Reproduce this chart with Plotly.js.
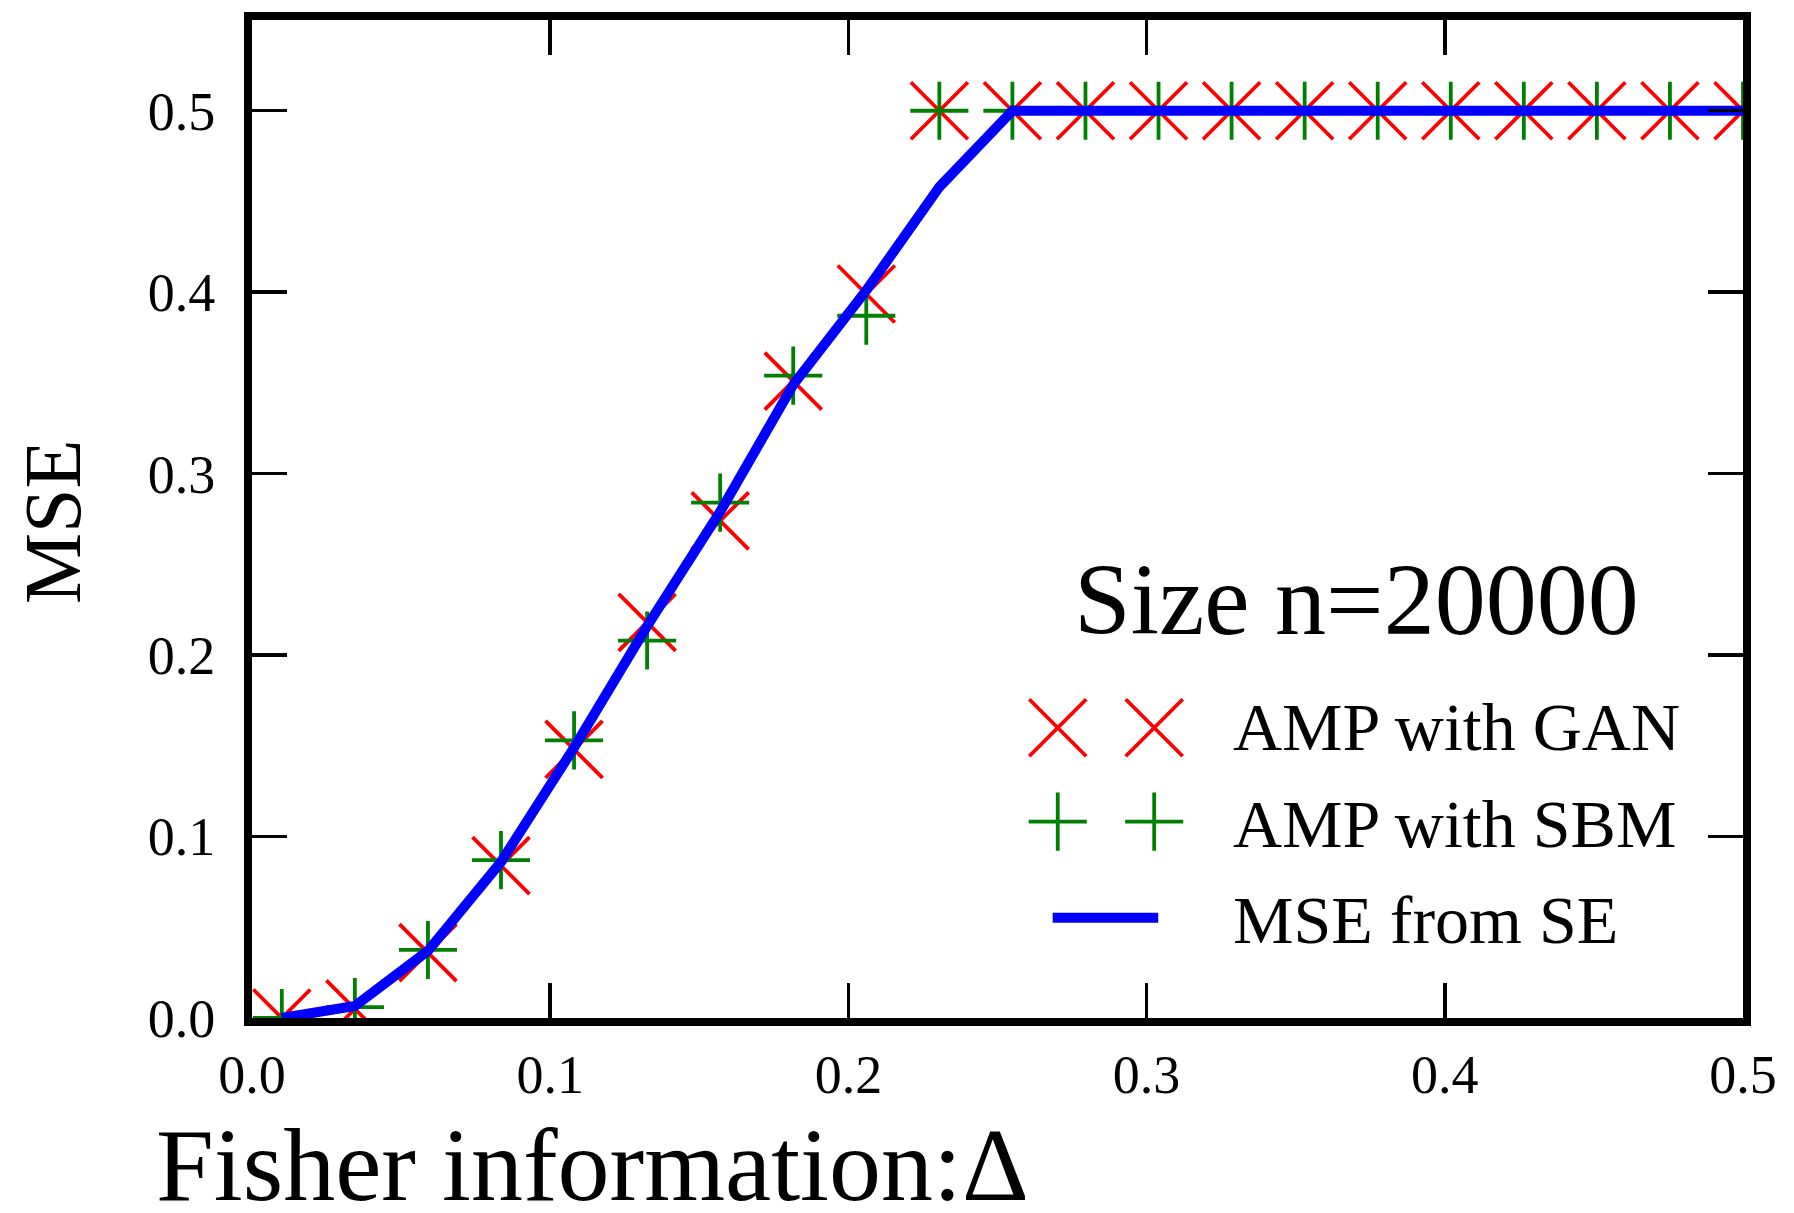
<!DOCTYPE html>
<html>
<head>
<meta charset="utf-8">
<script src="https://cdn.plot.ly/plotly-3.0.1.min.js"></script>
<style>html,body{margin:0;padding:0;background:#fff;}#chart{width:1794px;height:1213px;}</style>
</head>
<body>
<div id="chart"></div>
<script>
// Fisher information Δ (x positions of samples)
const delta = [0.01, 0.0345, 0.059, 0.0835, 0.108, 0.1325, 0.157, 0.1815, 0.206, 0.2305,
               0.255, 0.2795, 0.304, 0.3285, 0.353, 0.3775, 0.402, 0.4265, 0.451, 0.4755, 0.5];
// AMP with GAN (red x)
const mseGAN = [0.0, 0.005, 0.036, 0.084, 0.148, 0.218, 0.274, 0.351, 0.399, 0.5,
                0.5, 0.5, 0.5, 0.5, 0.5, 0.5, 0.5, 0.5, 0.5, 0.5, 0.5];
// AMP with SBM (green +)
const mseSBM = [0.0, 0.006, 0.0375, 0.087, 0.153, 0.208, 0.284, 0.354, 0.387, 0.5,
                0.5, 0.5, 0.5, 0.5, 0.5, 0.5, 0.5, 0.5, 0.5, 0.5, 0.5];
// MSE from state evolution (blue line)
const mseSE = [0.0, 0.0066, 0.037, 0.086, 0.149, 0.216, 0.279, 0.349, 0.401, 0.458,
               0.5, 0.5, 0.5, 0.5, 0.5, 0.5, 0.5, 0.5, 0.5, 0.5, 0.5];

const tickVals = [0.0, 0.1, 0.2, 0.3, 0.4, 0.5];
const tickText = ["0.0", "0.1", "0.2", "0.3", "0.4", "0.5"];
const legendTitle = "Size n=20000";
const seriesNames = ["AMP with GAN", "AMP with SBM", "MSE from SE"];
const xTitle = "Fisher information:\u0394";
const yTitle = "MSE";

const FONT = "Liberation Serif";
const RED = "#ff0000", GREEN = "#008000", BLUE = "#0000ff";
const XSIZE = 57, PSIZE = 41.5, MLW = 3.8;

const traces = [
  {x: delta, y: mseGAN, type: "scatter", mode: "markers", name: seriesNames[0],
   marker: {symbol: "x-thin", size: XSIZE, color: RED, line: {color: RED, width: MLW}},
   showlegend: false, cliponaxis: true},
  {x: delta, y: mseSBM, type: "scatter", mode: "markers", name: seriesNames[1],
   marker: {symbol: "cross-thin", size: PSIZE, color: GREEN, line: {color: GREEN, width: MLW}},
   showlegend: false, cliponaxis: true},
  {x: delta, y: mseSE, type: "scatter", mode: "lines", name: seriesNames[2],
   line: {color: BLUE, width: 10}, showlegend: false, cliponaxis: true},
  // hand-made legend glyphs (two points per entry), in an overlay [0,1] frame
  {x: [0.5404, 0.6051], y: [0.2908, 0.2908], xaxis: "x2", yaxis: "y2", type: "scatter", mode: "markers",
   marker: {symbol: "x-thin", size: XSIZE, color: RED, line: {color: RED, width: MLW}},
   showlegend: false, hoverinfo: "skip", cliponaxis: false},
  {x: [0.5404, 0.6051], y: [0.1968, 0.1968], xaxis: "x2", yaxis: "y2", type: "scatter", mode: "markers",
   marker: {symbol: "cross-thin", size: PSIZE, color: GREEN, line: {color: GREEN, width: MLW}},
   showlegend: false, hoverinfo: "skip", cliponaxis: false},
  {x: [0.537, 0.6078], y: [0.1004, 0.1004], xaxis: "x2", yaxis: "y2", type: "scatter", mode: "lines",
   line: {color: BLUE, width: 10}, showlegend: false, hoverinfo: "skip", cliponaxis: false}
];

const axisCommon = {
  showline: true, linewidth: 8, linecolor: "#000", mirror: "allticks",
  ticks: "inside", ticklen: 35, tickwidth: 3.5, tickcolor: "#000",
  showgrid: false, zeroline: false,
  tickmode: "array", tickvals: tickVals, ticktext: tickText,
  tickfont: {family: FONT, size: 54, color: "#000"}
};

const layout = {
  width: 1794, height: 1213,
  margin: {l: 252, r: 51, t: 20, b: 195},
  paper_bgcolor: "#fff", plot_bgcolor: "#fff",
  showlegend: false,
  xaxis: Object.assign({}, axisCommon, {range: [0, 0.5], ticklabelstandoff: 2}),
  yaxis: Object.assign({}, axisCommon, {range: [0, 0.55], ticklabelstandoff: 18}),
  xaxis2: {overlaying: "x", range: [0, 1], visible: false, fixedrange: true, anchor: "y2"},
  yaxis2: {overlaying: "y", range: [0, 1], visible: false, fixedrange: true, anchor: "x2"},
  annotations: [
    {text: legendTitle, xref: "paper", yref: "paper", x: 0.7405, y: 0.4195,
     xanchor: "center", yanchor: "middle", showarrow: false,
     font: {family: FONT, size: 102, color: "#000"}},
    {text: seriesNames[0], xref: "paper", yref: "paper", x: 0.6564, y: 0.2913,
     xanchor: "left", yanchor: "middle", showarrow: false,
     font: {family: FONT, size: 68, color: "#000"}},
    {text: seriesNames[1], xref: "paper", yref: "paper", x: 0.6564, y: 0.1948,
     xanchor: "left", yanchor: "middle", showarrow: false,
     font: {family: FONT, size: 68, color: "#000"}},
    {text: seriesNames[2], xref: "paper", yref: "paper", x: 0.6564, y: 0.0984,
     xanchor: "left", yanchor: "middle", showarrow: false,
     font: {family: FONT, size: 68, color: "#000"}},
    {text: xTitle, xref: "paper", yref: "paper", x: -0.0654, y: -0.147,
     xanchor: "left", yanchor: "middle", showarrow: false,
     font: {family: FONT, size: 104, color: "#000"}},
    {text: yTitle, xref: "paper", yref: "paper", x: -0.1334, y: 0.497,
     xanchor: "center", yanchor: "middle", textangle: -90, showarrow: false,
     font: {family: FONT, size: 80, color: "#000"}}
  ]
};

Plotly.newPlot("chart", traces, layout, {displayModeBar: false, staticPlot: true});
</script>
</body>
</html>
